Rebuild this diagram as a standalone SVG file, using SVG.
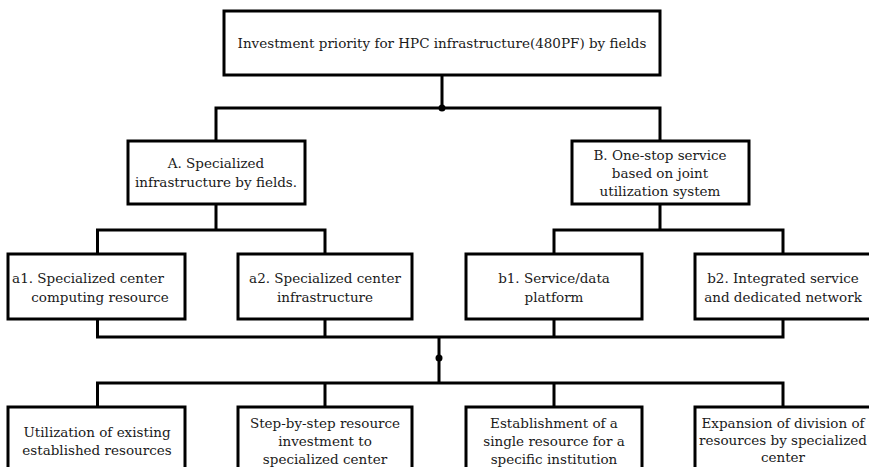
<svg xmlns="http://www.w3.org/2000/svg" width="869" height="467" viewBox="0 0 869 467">
<style>
.box{fill:#fff;stroke:#000;stroke-width:3}
.ln{fill:none;stroke:#000;stroke-width:3}
.t text{fill:#1a1a1a;text-anchor:middle}
</style>
<rect width="869" height="467" fill="#fff"/>
<g id="connectors">
<path class="ln" d="M442,75 V108 M216,140 V108 H660 V140"/>
<path class="ln" d="M216,205 V230 M97.5,254 V230 H325 V254"/>
<path class="ln" d="M660,205 V230 M554,254 V230 H783 V254"/>
<path class="ln" d="M97.5,319 V337 H783 V319 M325,319 V337 M554,319 V337"/>
<path class="ln" d="M439,337 V383 M97.5,407 V383 H783 V407 M325,383 V407 M554,383 V407"/>
<circle cx="442" cy="108" r="3.5" fill="#000"/>
<circle cx="439" cy="358" r="3.5" fill="#000"/>
</g>
<g class="t" style="font-family:'DejaVu Serif',serif;font-size:13.5px">
<g id="root">
<rect class="box" x="224" y="11" width="436" height="64"/>
<text x="442" y="48">Investment priority for HPC infrastructure(480PF) by fields</text>
</g>
<g id="A">
<rect class="box" x="128" y="141" width="177" height="63"/>
<text x="216" y="168">A. Specialized</text>
<text x="216" y="187">infrastructure by fields.</text>
</g>
<g id="B">
<rect class="box" x="572" y="141" width="177" height="63"/>
<text x="660" y="160">B. One-stop service</text>
<text x="660" y="178">based on joint</text>
<text x="660" y="196">utilization system</text>
</g>
<g id="a1">
<rect class="box" x="8" y="254" width="177" height="65"/>
<text x="88" y="283">a1. Specialized center</text>
<text x="100" y="302">computing resource</text>
</g>
<g id="a2">
<rect class="box" x="238" y="254" width="174" height="65"/>
<text x="325" y="283">a2. Specialized center</text>
<text x="325" y="302">infrastructure</text>
</g>
<g id="b1">
<rect class="box" x="466" y="254" width="176" height="65"/>
<text x="554" y="283">b1. Service/data</text>
<text x="554" y="302">platform</text>
</g>
<g id="b2">
<rect class="box" x="695" y="254" width="180" height="65"/>
<text x="783" y="283">b2. Integrated service</text>
<text x="783" y="302">and dedicated network</text>
</g>
<g id="c1">
<rect class="box" x="8" y="407" width="177" height="70"/>
<text x="97" y="437">Utilization of existing</text>
<text x="97" y="455">established resources</text>
</g>
<g id="c2">
<rect class="box" x="238" y="407" width="174" height="70"/>
<text x="325" y="428">Step-by-step resource</text>
<text x="325" y="446">investment to</text>
<text x="325" y="464">specialized center</text>
</g>
<g id="c3">
<rect class="box" x="466" y="407" width="176" height="70"/>
<text x="554" y="428">Establishment of a</text>
<text x="554" y="446">single resource for a</text>
<text x="554" y="464">specific institution</text>
</g>
<g id="c4">
<rect class="box" x="695" y="407" width="180" height="70"/>
<text x="783" y="428">Expansion of division of</text>
<text x="783" y="445">resources by specialized</text>
<text x="783" y="462">center</text>
</g>
</g>
</svg>
